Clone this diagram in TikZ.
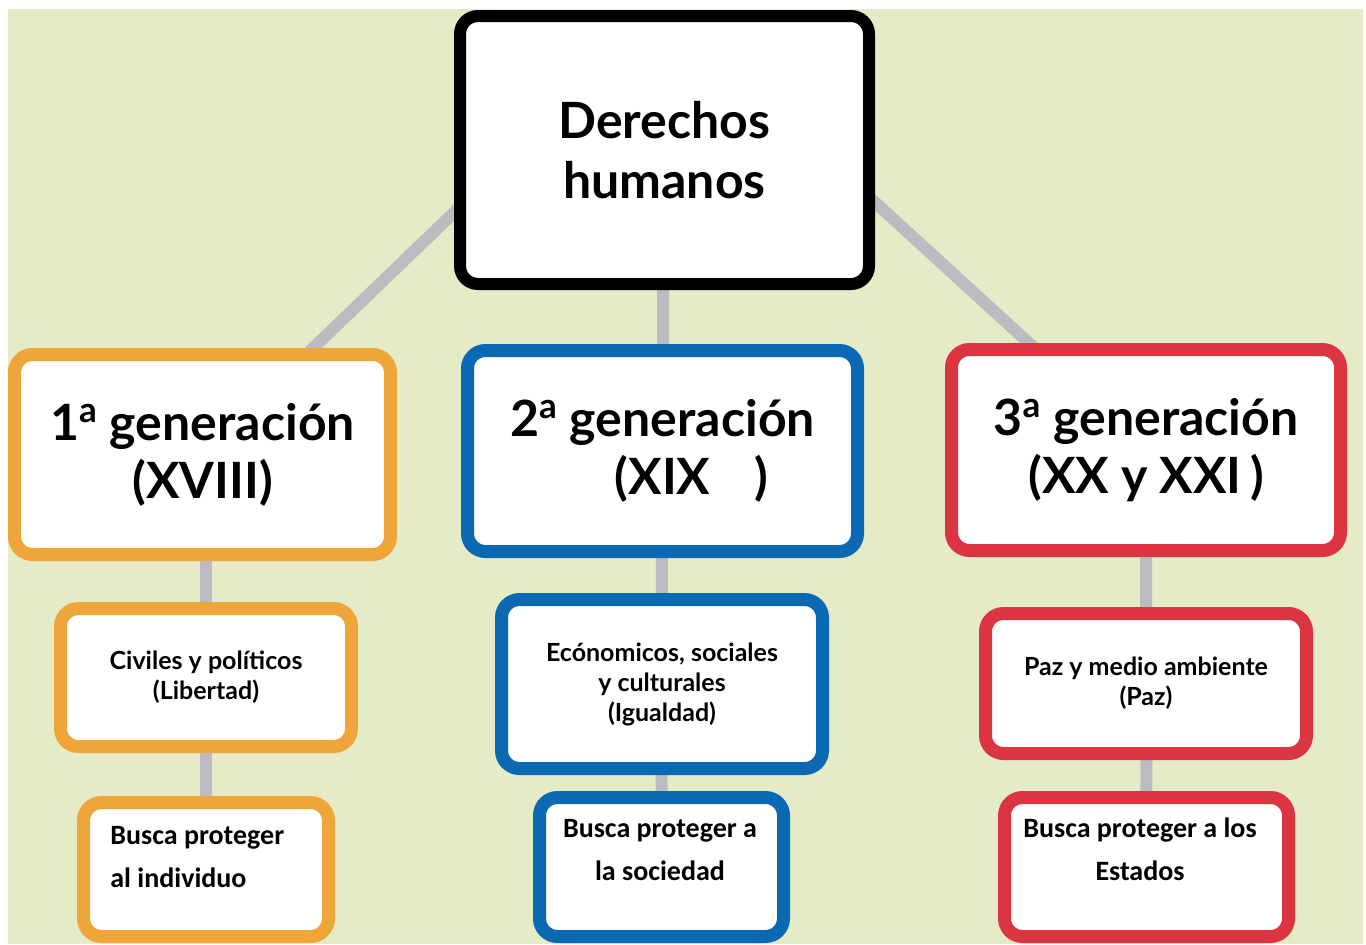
\documentclass[tikz,border=0pt]{standalone}
\usepackage{fontspec}
\usetikzlibrary{backgrounds}
\newfontfamily\roundfont{Lato}
\newfontfamily\calfont{Carlito}
\definecolor{paper}{HTML}{E6EBC7}
\definecolor{linkgray}{HTML}{BCBBC1}
\definecolor{orangegen}{HTML}{EEA53A}
\definecolor{bluegen}{HTML}{0B69B3}
\definecolor{redgen}{HTML}{DB3541}
\begin{document}
\begin{tikzpicture}[x=0.5pt, y=-0.5pt,
    box/.style={fill=white, line width=6.5pt, rounded corners=9pt, inner sep=0pt, align=center},
    topbox/.style={box, draw=black, line width=6pt,
      font=\roundfont\bfseries\fontsize{25}{30}\selectfont},
    genbox/.style={box, font=\roundfont\bfseries\fontsize{25}{29}\selectfont},
    kindbox/.style={box, font=\roundfont\bfseries\fontsize{12.5}{15}\selectfont},
    aimbox/.style={box},
    aimtext/.style={inner sep=0pt, anchor=north, align=center,
      font=\calfont\bfseries\fontsize{14}{21.5}\selectfont},
    link/.style={draw=linkgray, line width=6pt}]
  \useasboundingbox (0,0) rectangle (1366,944);
  \node[topbox, minimum width=204.5pt, minimum height=134pt] (dh) at (664.5,150) {Derechos\\humanos};
  \node[genbox, draw=orangegen, minimum width=188pt, minimum height=100pt] (g1) at (202.5,454.5)
    {1\textsuperscript{a} generación\\(XVIII)};
  \node[genbox, draw=bluegen, minimum width=195pt, minimum height=100.5pt] (g2) at (662.5,451)
    {2\textsuperscript{a} generación\\\hspace*{29pt}(XIX\hspace{22pt})};
  \node[genbox, draw=redgen, minimum width=194.5pt, minimum height=100.5pt] (g3) at (1146,450)
    {3\textsuperscript{a} generación\\(XX y XXI\,)};
  \node[kindbox, draw=orangegen, minimum width=145.5pt, minimum height=69pt] (c1) at (206,677.5)
    {Civiles y políticos\\(Libertad)};
  \node[kindbox, draw=bluegen, minimum width=160.5pt, minimum height=84.5pt] (c2) at (662,684)
    {Ecónomicos, sociales\\y culturales\\(Igualdad)};
  \node[kindbox, draw=redgen, minimum width=160.5pt, minimum height=70pt] (c3) at (1146,683.5)
    {Paz y medio ambiente\\(Paz)};
  \node[aimbox, draw=orangegen, minimum width=122.5pt, minimum height=67pt] (d1) at (206,869.5) {};
  \node[aimbox, draw=bluegen, minimum width=122pt, minimum height=69.5pt] (d2) at (661.5,867) {};
  \node[aimbox, draw=redgen, minimum width=142pt, minimum height=69.5pt] (d3) at (1146.5,867) {};
  \node[aimtext, anchor=north west, align=left] (a1) at (110,826) {Busca proteger\\al individuo};
  \node[aimtext] (a2) at (660,819) {Busca proteger a\\la sociedad};
  \node[aimtext] (a3) at (1140,817) {Busca proteger a los\\Estados};
  \begin{scope}[on background layer]
    \fill[white] (0,0) rectangle (1366,944);
    \fill[paper] (8,9) rectangle (1363,944);
    \draw[link, shorten <=10pt] (dh.north) -- (g1.center);
    \draw[link, shorten <=10pt] (dh.north) -- (g2.center);
    \draw[link, shorten <=10pt] (dh.north) -- (g3.center);
    \draw[link] (c1 |- g1) -- (d1);
    \draw[link] (c2 |- g2) -- (d2);
    \draw[link] (c3 |- g3) -- (d3);
  \end{scope}
\end{tikzpicture}
\end{document}
